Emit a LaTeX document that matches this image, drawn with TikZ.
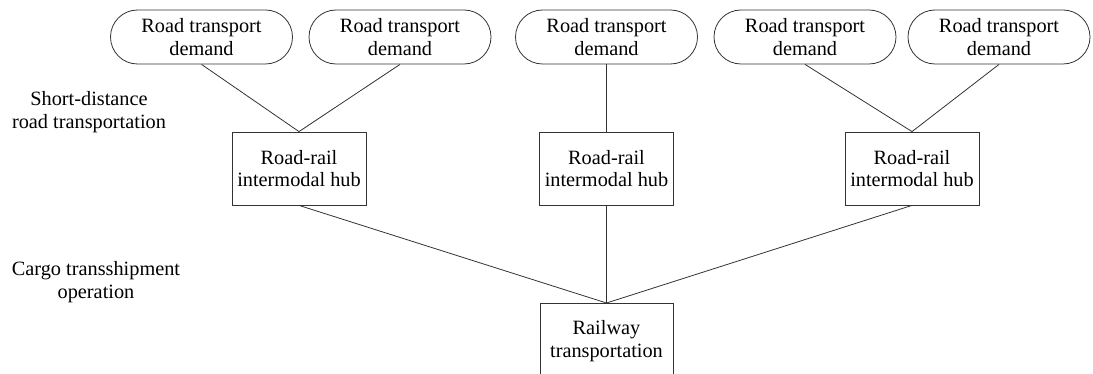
\documentclass[tikz,border=0pt]{standalone}
\usepackage{fontspec}
\setmainfont{LiberationSerif}[Extension=.ttf, UprightFont=*-Regular, BoldFont=*-Bold, ItalicFont=*-Italic, BoldItalicFont=*-BoldItalic]
\begin{document}
\begin{tikzpicture}[x=1pt,y=-1pt,
  every node/.style={font=\rmfamily\fontsize{20.3}{22.5}\selectfont, align=center, inner sep=0pt},
  demand/.style={draw=black!80, line width=0.8pt, rounded corners=27pt, minimum width=182pt, minimum height=54pt},
  hub/.style={draw=black!80, line width=0.8pt, minimum width=134pt, minimum height=73pt},
  conn/.style={draw=black!80, line width=0.8pt}]
\clip (0,0) rectangle (1093,374);
\useasboundingbox (0,0) rectangle (1093,374);
% top demand nodes
\node[demand] (d1) at (201.5,37) {Road transport\\demand};
\node[demand] (d2) at (400,37) {Road transport\\demand};
\node[demand] (d3) at (606.5,37) {Road transport\\demand};
\node[demand] (d4) at (805,37) {Road transport\\demand};
\node[demand] (d5) at (999,37) {Road transport\\demand};
% hubs
\node[hub] (h1) at (299,168.5) {Road-rail\\intermodal hub};
\node[hub] (h2) at (606.5,168.5) {Road-rail\\intermodal hub};
\node[hub] (h3) at (912,168.5) {Road-rail\\intermodal hub};
% railway
\node[hub, minimum width=133pt, minimum height=100pt, anchor=north] (rail) at (606.5,303) {};
\node (railtxt) at (606.5,341) {Railway\\transportation};
% side labels
\node (lab1) at (89,112) {Short-distance\\road transportation};
\node (lab2) at (96,282) {Cargo transshipment\\operation};
% connectors
\draw[conn] (d1.south) -- (h1.north);
\draw[conn] (d2.south) -- (h1.north);
\draw[conn] (d3.south) -- (h2.north);
\draw[conn] (d4.south) -- (h3.north);
\draw[conn] (d5.south) -- (h3.north);
\draw[conn] (h1.south) -- (rail.north);
\draw[conn] (h2.south) -- (rail.north);
\draw[conn] (h3.south) -- (rail.north);
\end{tikzpicture}
\end{document}
